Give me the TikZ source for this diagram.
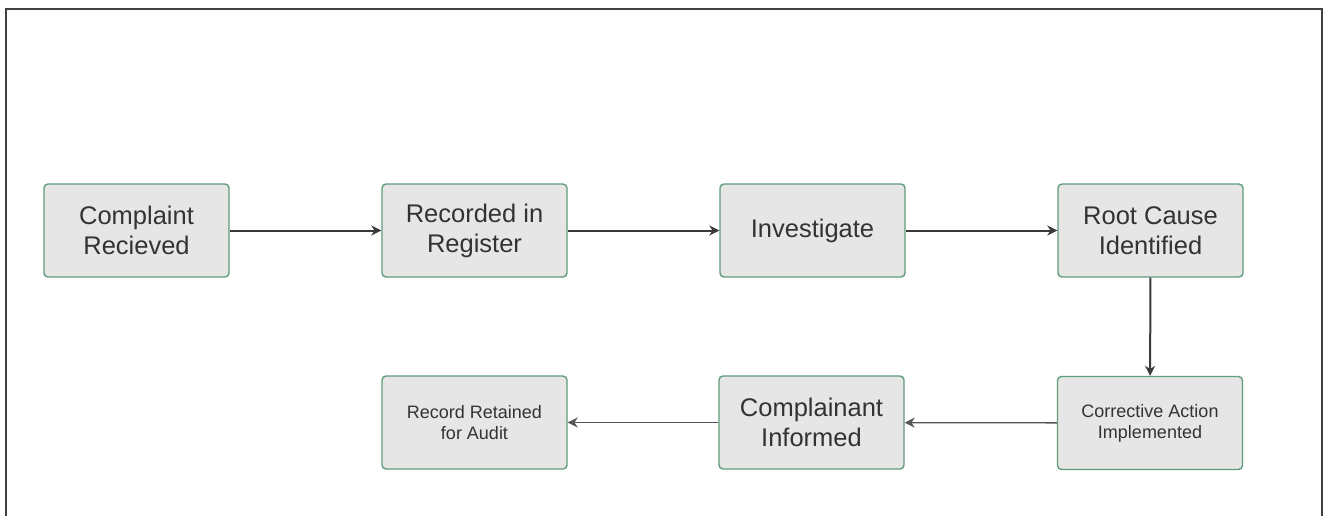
\documentclass[tikz,border=0pt]{standalone}
\usepackage{fontspec}
\setmainfont{Liberation Sans}
\usetikzlibrary{arrows.meta}
\definecolor{boxfill}{HTML}{E6E6E6}
\definecolor{boxline}{HTML}{5E9C7C}
\definecolor{txt}{HTML}{333333}
\definecolor{arr}{HTML}{3A3A3A}
\definecolor{arrlight}{HTML}{555555}
\tikzset{
  stepbox/.style={draw=boxline, line width=1.4pt, fill=boxfill, rounded corners=4pt,
    minimum width=185pt, minimum height=93pt, align=center, text=txt, inner sep=2pt},
  bigtext/.style={font=\fontsize{25.5}{30}\selectfont},
  smalltext/.style={font=\fontsize{18}{21}\selectfont},
  flow/.style={draw=arr, line width=2pt, -{Stealth[length=10pt,width=10pt]}},
  flowthin/.style={draw=arrlight, line width=1.3pt, -{Stealth[length=10pt,width=10pt]}}
}
\begin{document}
\begin{tikzpicture}[x=1pt,y=-1pt]
			\useasboundingbox (0,0) rectangle (1324,516);
			% Frame
			\draw[draw=black!75, line width=1.5pt] (6,516) -- (6,9) -- (1322,9) -- (1322,516);
			
			% Top row
			\node (recv) at (136.5,230.5) [stepbox, bigtext] {Complaint\\Recieved};
			\node (reg) at (474.5,230.5) [stepbox, bigtext] {Recorded in\\Register};
			\node (inv) at (812.5,230.5) [stepbox, bigtext] {Investigate};
			\node (root) at (1150.5,230.5) [stepbox, bigtext] {Root Cause\\Identified};
			
			% Bottom row
			\node (act) at (1150,423) [stepbox, smalltext] {Corrective Action\\Implemented};
			\node (inf) at (811.5,422.5) [stepbox, bigtext] {Complainant\\Informed};
			\node (keep) at (474.5,422.5) [stepbox, smalltext] {Record Retained\\for Audit};
			
			% Connectors
			\draw[flow] (recv) -- (reg);
			\draw[flow] (reg) -- (inv);
			\draw[flow] (inv) -- (root);
			\draw[flow] (root) -- (act);
			\draw[flowthin] (act) -- (inf);
			\draw[flowthin] (inf) -- (keep);
		\end{tikzpicture}
\end{document}
